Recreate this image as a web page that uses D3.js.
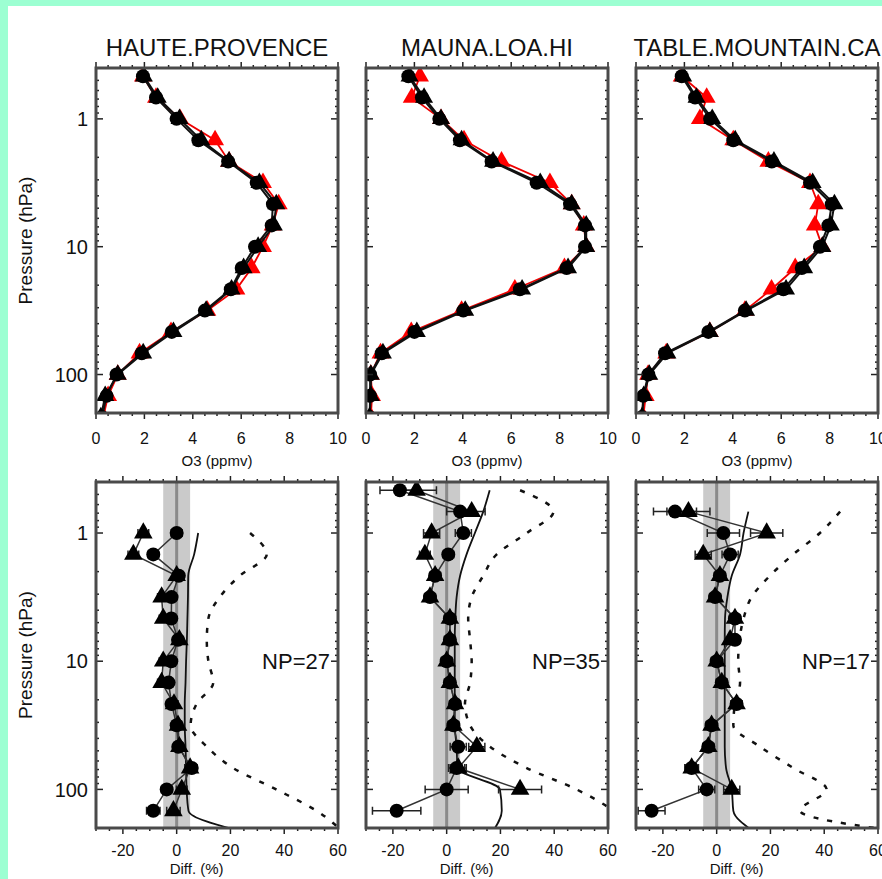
<!DOCTYPE html>
<html>
<head>
<meta charset="utf-8">
<script src="https://cdn.jsdelivr.net/npm/d3@7"></script>
<style>
  html, body { margin: 0; padding: 0; background: #fff; overflow: hidden; }
  svg { display: block; }
  text { font-family: "Liberation Sans", Arial, Helvetica, sans-serif; fill: #111; }
</style>
</head>
<body>
<svg id="chart" width="882" height="879"></svg>
<script>
// station names + number of profiles
const stations = ["HAUTE.PROVENCE", "MAUNA.LOA.HI", "TABLE.MOUNTAIN.CA"];
const npCount = [27, 35, 17];

// pressure levels (hPa), 6 per decade
const levels = [0.464, 0.681, 1, 1.468, 2.154, 3.162, 4.642, 6.813, 10, 14.68, 21.54, 31.62, 46.42, 68.13, 100, 146.8, 215.4];

// top row: O3 mixing ratio (ppmv)
const o3Circle = [
  [1.94, 2.48, 3.33, 4.23, 5.46, 6.64, 7.31, 7.26, 6.57, 6.02, 5.57, 4.5, 3.13, 1.89, 0.85, 0.44, 0.25],
  [1.75, 2.31, 3.03, 3.88, 5.19, 7.05, 8.43, 9.05, 9.05, 8.29, 6.36, 4.02, 2.0, 0.65, 0.17, 0.17, 0.15],
  [1.89, 2.44, 3.06, 4.02, 5.61, 7.19, 8.09, 7.95, 7.6, 6.85, 6.09, 4.5, 2.99, 1.2, 0.51, 0.3, 0.25]
];
const o3Triangle = [
  [1.98, 2.55, 3.45, 4.35, 5.5, 6.75, 7.45, 7.35, 6.7, 6.1, 5.6, 4.55, 3.2, 1.95, 0.9, 0.38, 0.2],
  [1.8, 2.4, 3.1, 3.95, 5.25, 7.2, 8.5, 9.1, 9.1, 8.35, 6.45, 4.1, 2.1, 0.7, 0.2, 0.2, 0.15],
  [1.95, 2.5, 3.15, 4.1, 5.7, 7.3, 8.2, 8.05, 7.7, 6.95, 6.2, 4.55, 3.05, 1.3, 0.55, 0.32, 0.25]
];
const o3Red = [
  [1.94, 2.48, 3.47, 4.92, 5.5, 6.9, 7.55, 7.3, 6.9, 6.43, 5.8, 4.6, 3.1, 1.8, 0.9, 0.5, 0.3],
  [2.23, 1.89, 3.1, 4.05, 5.6, 7.6, 8.5, 9.0, 9.1, 8.2, 6.15, 3.95, 1.87, 0.6, 0.2, 0.25, 0.2],
  [1.89, 2.92, 2.64, 4.02, 5.47, 7.19, 7.53, 7.39, 7.7, 6.58, 5.6, 4.5, 3.05, 1.25, 0.5, 0.4, 0.3]
];

// bottom row: relative difference (%)
const diffCircle = [
  [null, null, 0, -8.7, 0.8, -1.9, -2, 0.5, -2, -3, -1.9, 0, 0.6, 5.6, -3.7, -8.7, null],
  [-17.4, 5, 6.2, 0.6, -4.3, -6.2, 1.2, 1.2, 0, 1.2, 3.1, 2.5, 4.3, 3.7, 0, -18.6, null],
  [null, -15.5, 2.5, 5, 1.2, -0.6, 6.8, 6.8, 0, 1.9, 7.4, -1.9, -3.1, -9.3, -3.7, -24.2, null]
];
const diffTriangle = [
  [null, null, -12.4, -16.1, 0, -5.6, -5, 1, -5, -5.6, -1, 0.5, 1, 5, 1.9, -1.2, null],
  [-11.2, 9.3, -5.6, -8.1, -4.3, -6.2, 1.2, 1.2, 0, 1.2, 3.1, 2.5, 11.2, 4.3, 27.3, null, null],
  [null, -10.5, 18.6, -5, 1.2, -0.6, 6.8, 5, 0, 1.9, 7.4, -1.9, -3.1, -9.3, 5.6, null, null]
];
const diffErr = [
  [null, null, 2, 2, 1.5, 1.5, 1.5, 1.5, 1.5, 1.5, 1.5, 1.5, 1.5, 2, 2, 2.5, null],
  [7.4, 5, 3, 2, 2, 2, 2, 2, 2, 2, 2, 2, 3, 3, 8, 9, null],
  [null, 8, 6, 3, 2, 2, 2, 2, 2, 2, 2, 2, 2, 2.5, 3, 5, null]
];
const sdSolid = [
  [null, null, 8, 6.5, 4.3, 4.2, 4, 3.8, 3.5, 3.3, 3, 3, 3.3, 3.5, 3.7, 4.4, 25],
  [16, 13.6, 10.5, 7.4, 5, 3.7, 3.2, 3, 3, 3, 3, 3, 3.7, 4, 19.8, 20.5, 17],
  [null, 11.8, 10, 8.7, 5.6, 4, 3.1, 3, 3, 3, 3, 3, 3, 3.5, 5.6, 6.2, 14]
];
const sdDashed = [
  [null, null, 27.3, 33.5, 23.5, 16, 11.8, 11.2, 11.8, 13.6, 7.4, 5.2, 11.2, 21, 37, 52, 62],
  [27.3, 39.7, 29.8, 18.6, 13.6, 9.3, 8, 8.7, 9.3, 8.7, 6.8, 8.7, 16.1, 29.8, 48.3, 62, 70],
  [null, 45.9, 38.4, 28.5, 19.8, 13, 10, 8.5, 8, 8.7, 6.8, 6.2, 16.1, 28.5, 40.9, 31, 70]
];

// ---- layout
const panelX = [96, 366, 636], panelW = 242;
const topY = [68, 413], botY = [482, 828];
const frameColor = "#4a4a4a";

const svg = d3.select("#chart");
// mint border on the left and top
svg.append("rect").attr("x", 0).attr("y", 0).attr("width", 882).attr("height", 6).attr("fill", "#9cffd2");
svg.append("rect").attr("x", 0).attr("y", 0).attr("width", 8).attr("height", 879).attr("fill", "#9cffd2");

const defs = svg.append("defs");

function frameTicks(g, x, y, xMajor, xMinor) {
    const [x0, x1] = x.range(), [y1, y0] = y.range();
    const t = g.append("g").attr("stroke", "#222");
    // x ticks, top + bottom
    xMinor.forEach(v => {
        const len = xMajor.includes(v) ? 6 : 3;
        t.append("line").attr("x1", x(v)).attr("x2", x(v)).attr("y1", y1).attr("y2", y1 - len).attr("stroke-width", 1.5);
        t.append("line").attr("x1", x(v)).attr("x2", x(v)).attr("y1", y0).attr("y2", y0 + len).attr("stroke-width", 1.5);
    });
    // log y ticks, left + right
    const yTicks = [];
    for (let d = -1; d <= 2; d++)
        for (let m = 1; m <= 9; m++) {
            const v = m * Math.pow(10, d);
            if (v >= 0.4 && v <= 200) yTicks.push(v);
        }
    yTicks.forEach(v => {
        const len = (Math.log10(v) % 1 === 0) ? 7 : 3;
        t.append("line").attr("x1", x0).attr("x2", x0 + len).attr("y1", y(v)).attr("y2", y(v)).attr("stroke-width", 1.5);
        t.append("line").attr("x1", x1).attr("x2", x1 - len).attr("y1", y(v)).attr("y2", y(v)).attr("stroke-width", 1.5);
    });
}

function yLabels(g, x, y, midY) {
    [1, 10, 100].forEach(v => {
        g.append("text")
            .attr("x", x.range()[0] - 8).attr("y", y(v))
            .attr("dy", "0.36em")
            .attr("text-anchor", "end")
            .attr("font-size", 20)
            .text(v);
    });
    g.append("text")
        .attr("transform", `translate(${x.range()[0] - 64},${midY}) rotate(-90)`)
        .attr("text-anchor", "middle")
        .attr("font-size", 19)
        .text("Pressure (hPa)");
}

function triangle(size) {
    return d3.symbol().type(d3.symbolTriangle).size(size)();
}

stations.forEach((name, s) => {
    const x0 = panelX[s];

    // ================= top: O3 profiles =================
    const xT = d3.scaleLinear().domain([0, 10]).range([x0, x0 + panelW]);
    const yT = d3.scaleLog().domain([0.4, 200]).range([topY[0], topY[1]]);
    const gT = svg.append("g");

    defs.append("clipPath").attr("id", "clipT" + s)
        .append("rect").attr("x", x0).attr("y", topY[0]).attr("width", panelW).attr("height", topY[1] - topY[0]);

    gT.append("text")
        .attr("x", x0 + panelW / 2).attr("y", 56)
        .attr("text-anchor", "middle")
        .attr("font-size", 24)
        .text(name);

    const plotT = gT.append("g").attr("clip-path", `url(#clipT${s})`);
    const lineT = vals => d3.line()
        .defined(d => d[0] != null)
        .x(d => xT(d[0])).y(d => yT(d[1]))(vals.map((v, i) => [v, levels[i]]));

    plotT.append("path").attr("d", lineT(o3Red[s])).attr("fill", "none").attr("stroke", "#e00").attr("stroke-width", 1.8);
    plotT.selectAll(".rt").data(levels).join("path")
        .attr("transform", (p, i) => `translate(${xT(o3Red[s][i])},${yT(p)})`)
        .attr("d", triangle(140)).attr("fill", "#f00");
    plotT.append("path").attr("d", lineT(o3Triangle[s])).attr("fill", "none").attr("stroke", "#111").attr("stroke-width", 2);
    plotT.append("path").attr("d", lineT(o3Circle[s])).attr("fill", "none").attr("stroke", "#111").attr("stroke-width", 2);
    plotT.selectAll(".bt").data(levels).join("path")
        .attr("transform", (p, i) => `translate(${xT(o3Triangle[s][i])},${yT(p)})`)
        .attr("d", triangle(140)).attr("fill", "#000");
    plotT.selectAll(".bc").data(levels).join("circle")
        .attr("cx", (p, i) => xT(o3Circle[s][i])).attr("cy", p => yT(p))
        .attr("r", 7).attr("fill", "#000");

    frameTicks(gT, xT, yT, d3.range(0, 11, 2), d3.range(0, 10.01, 0.5).map(v => +v.toFixed(1)));
    gT.append("rect")
        .attr("x", x0).attr("y", topY[0]).attr("width", panelW).attr("height", topY[1] - topY[0])
        .attr("fill", "none").attr("stroke", frameColor).attr("stroke-width", 3);

    d3.range(0, 11, 2).forEach(v => {
        gT.append("text").attr("x", xT(v)).attr("y", 444)
            .attr("text-anchor", "middle").attr("font-size", 16).text(v);
    });
    gT.append("text").attr("x", x0 + panelW / 2).attr("y", 466)
        .attr("text-anchor", "middle").attr("font-size", 15).text("O3 (ppmv)");

    // ================= bottom: differences =================
    const xB = d3.scaleLinear().domain([-30, 60]).range([x0, x0 + panelW]);
    const yB = d3.scaleLog().domain([0.4, 200]).range([botY[0], botY[1]]);
    const gB = svg.append("g");

    defs.append("clipPath").attr("id", "clipB" + s)
        .append("rect").attr("x", x0).attr("y", botY[0]).attr("width", panelW).attr("height", botY[1] - botY[0]);
    const plotB = gB.append("g").attr("clip-path", `url(#clipB${s})`);

    plotB.append("rect")
        .attr("x", xB(-5)).attr("y", botY[0]).attr("width", xB(5) - xB(-5)).attr("height", botY[1] - botY[0])
        .attr("fill", "#cacaca");
    plotB.append("line")
        .attr("x1", xB(0)).attr("x2", xB(0)).attr("y1", botY[0]).attr("y2", botY[1])
        .attr("stroke", "#8a8a8a").attr("stroke-width", 3);

    const lineB = (vals, curve) => d3.line()
        .defined(d => d[0] != null)
        .curve(curve || d3.curveLinear)
        .x(d => xB(d[0])).y(d => yB(d[1]))(vals.map((v, i) => [v, levels[i]]));

    plotB.append("path").attr("d", lineB(sdDashed[s], d3.curveMonotoneY))
        .attr("fill", "none").attr("stroke", "#111").attr("stroke-width", 2.5).attr("stroke-dasharray", "5,9");
    plotB.append("path").attr("d", lineB(sdSolid[s], d3.curveMonotoneY))
        .attr("fill", "none").attr("stroke", "#111").attr("stroke-width", 1.8);

    [diffTriangle[s], diffCircle[s]].forEach(vals => {
        plotB.append("path").attr("d", lineB(vals))
            .attr("fill", "none").attr("stroke", "#333").attr("stroke-width", 1.5);
        vals.forEach((v, i) => {
            if (v == null) return;
            const e = diffErr[s][i] || 1.5, yy = yB(levels[i]);
            plotB.append("path")
                .attr("d", `M${xB(v - e)},${yy}H${xB(v + e)}M${xB(v - e)},${yy - 4}V${yy + 4}M${xB(v + e)},${yy - 4}V${yy + 4}`)
                .attr("stroke", "#222").attr("stroke-width", 1.5).attr("fill", "none");
        });
    });
    diffTriangle[s].forEach((v, i) => {
        if (v == null) return;
        plotB.append("path").attr("transform", `translate(${xB(v)},${yB(levels[i])})`)
            .attr("d", triangle(150)).attr("fill", "#000");
    });
    diffCircle[s].forEach((v, i) => {
        if (v == null) return;
        plotB.append("circle").attr("cx", xB(v)).attr("cy", yB(levels[i])).attr("r", 7).attr("fill", "#000");
    });

    frameTicks(gB, xB, yB, d3.range(-20, 61, 20), d3.range(-30, 61, 5));
    gB.append("rect")
        .attr("x", x0).attr("y", botY[0]).attr("width", panelW).attr("height", botY[1] - botY[0])
        .attr("fill", "none").attr("stroke", frameColor).attr("stroke-width", 3);

    gB.append("text")
        .attr("x", x0 + panelW - 8).attr("y", yB(10))
        .attr("dy", "0.36em")
        .attr("text-anchor", "end")
        .attr("font-size", 22)
        .text("NP=" + npCount[s]);

    d3.range(-20, 61, 20).forEach(v => {
        gB.append("text").attr("x", xB(v)).attr("y", 856)
            .attr("text-anchor", "middle").attr("font-size", 16).text(v);
    });
    gB.append("text").attr("x", xB(0) + 20).attr("y", 874)
        .attr("text-anchor", "middle").attr("font-size", 15).text("Diff. (%)");

    if (s === 0) {
        yLabels(gT, xT, yT, (topY[0] + topY[1]) / 2);
        yLabels(gB, xB, yB, (botY[0] + botY[1]) / 2);
    }
});
</script>
</body>
</html>
